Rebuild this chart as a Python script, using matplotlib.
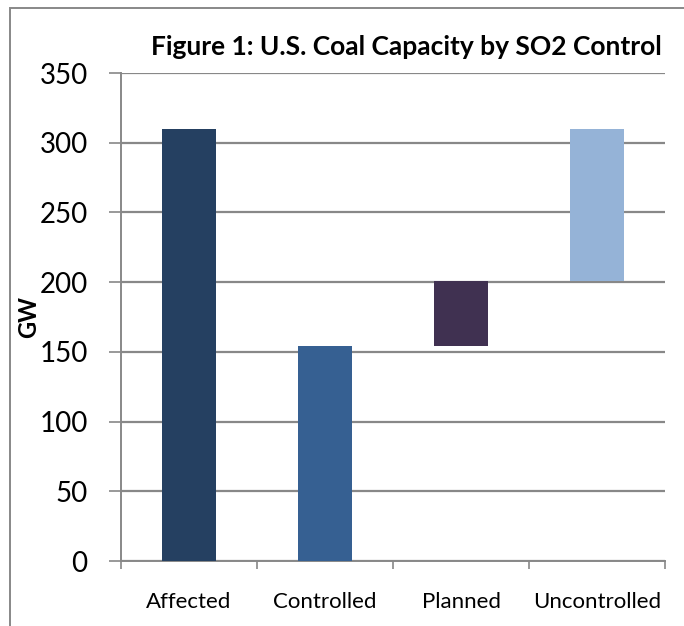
import matplotlib.pyplot as plt
from matplotlib.patches import Rectangle

categories = ['Affected', 'Controlled', 'Planned', 'Uncontrolled']
capacity = [310, 154, 47, 109]          # GW
starts = [0, 0, 154, 201]               # waterfall bases
colors = ['#254061', '#366092', '#403151', '#95B3D7']

plt.rcParams['font.family'] = ['Lato', 'DejaVu Sans']

fig = plt.figure(figsize=(6.84, 6.26), dpi=100)
ax = fig.add_axes([121 / 684, 1 - 561 / 626, 544 / 684, 488 / 626])

x = range(len(categories))
ax.bar(x, capacity, bottom=starts, width=0.4, color=colors, zorder=3)

ax.set_xlim(-0.5, len(categories) - 0.5)
ax.set_ylim(0, 350)
ax.set_yticks(range(0, 351, 50))
ax.set_yticklabels([str(v) for v in range(0, 351, 50)], fontsize=20)
ax.set_xticks([i - 0.5 for i in range(len(categories) + 1)], minor=False)
ax.set_xticklabels([])
ax.set_xticks(list(x), minor=True)
ax.set_xticklabels(categories, minor=True, fontsize=16)
ax.tick_params(axis='x', which='minor', length=0, pad=22)
ax.tick_params(axis='x', which='major', length=6, color='#888888', width=1.2)
ax.tick_params(axis='y', length=9, color='#888888', width=1.2, pad=15)

ax.grid(axis='y', color='#888888', lw=1.6, zorder=0)
for side in ['top', 'right']:
    ax.spines[side].set_visible(False)
for side in ['left', 'bottom']:
    ax.spines[side].set_color('#888888')
    ax.spines[side].set_linewidth(1.4)

ax.set_ylabel('GW', fontsize=17, fontweight='bold')
ax.yaxis.set_label_coords(-0.149, 0.5)
fig.text(406 / 684, 1 - 47 / 626, 'Figure 1: U.S. Coal Capacity by SO2 Control',
         ha='center', va='center', fontsize=19, fontweight='bold')

# chart frame
fig.patches.append(Rectangle((10 / 684, -0.1), 1.2, 1 - 8 / 626 + 0.1,
                             transform=fig.transFigure, fill=False,
                             edgecolor='#888888', lw=1.4))

plt.savefig('out.png')
plt.close()
